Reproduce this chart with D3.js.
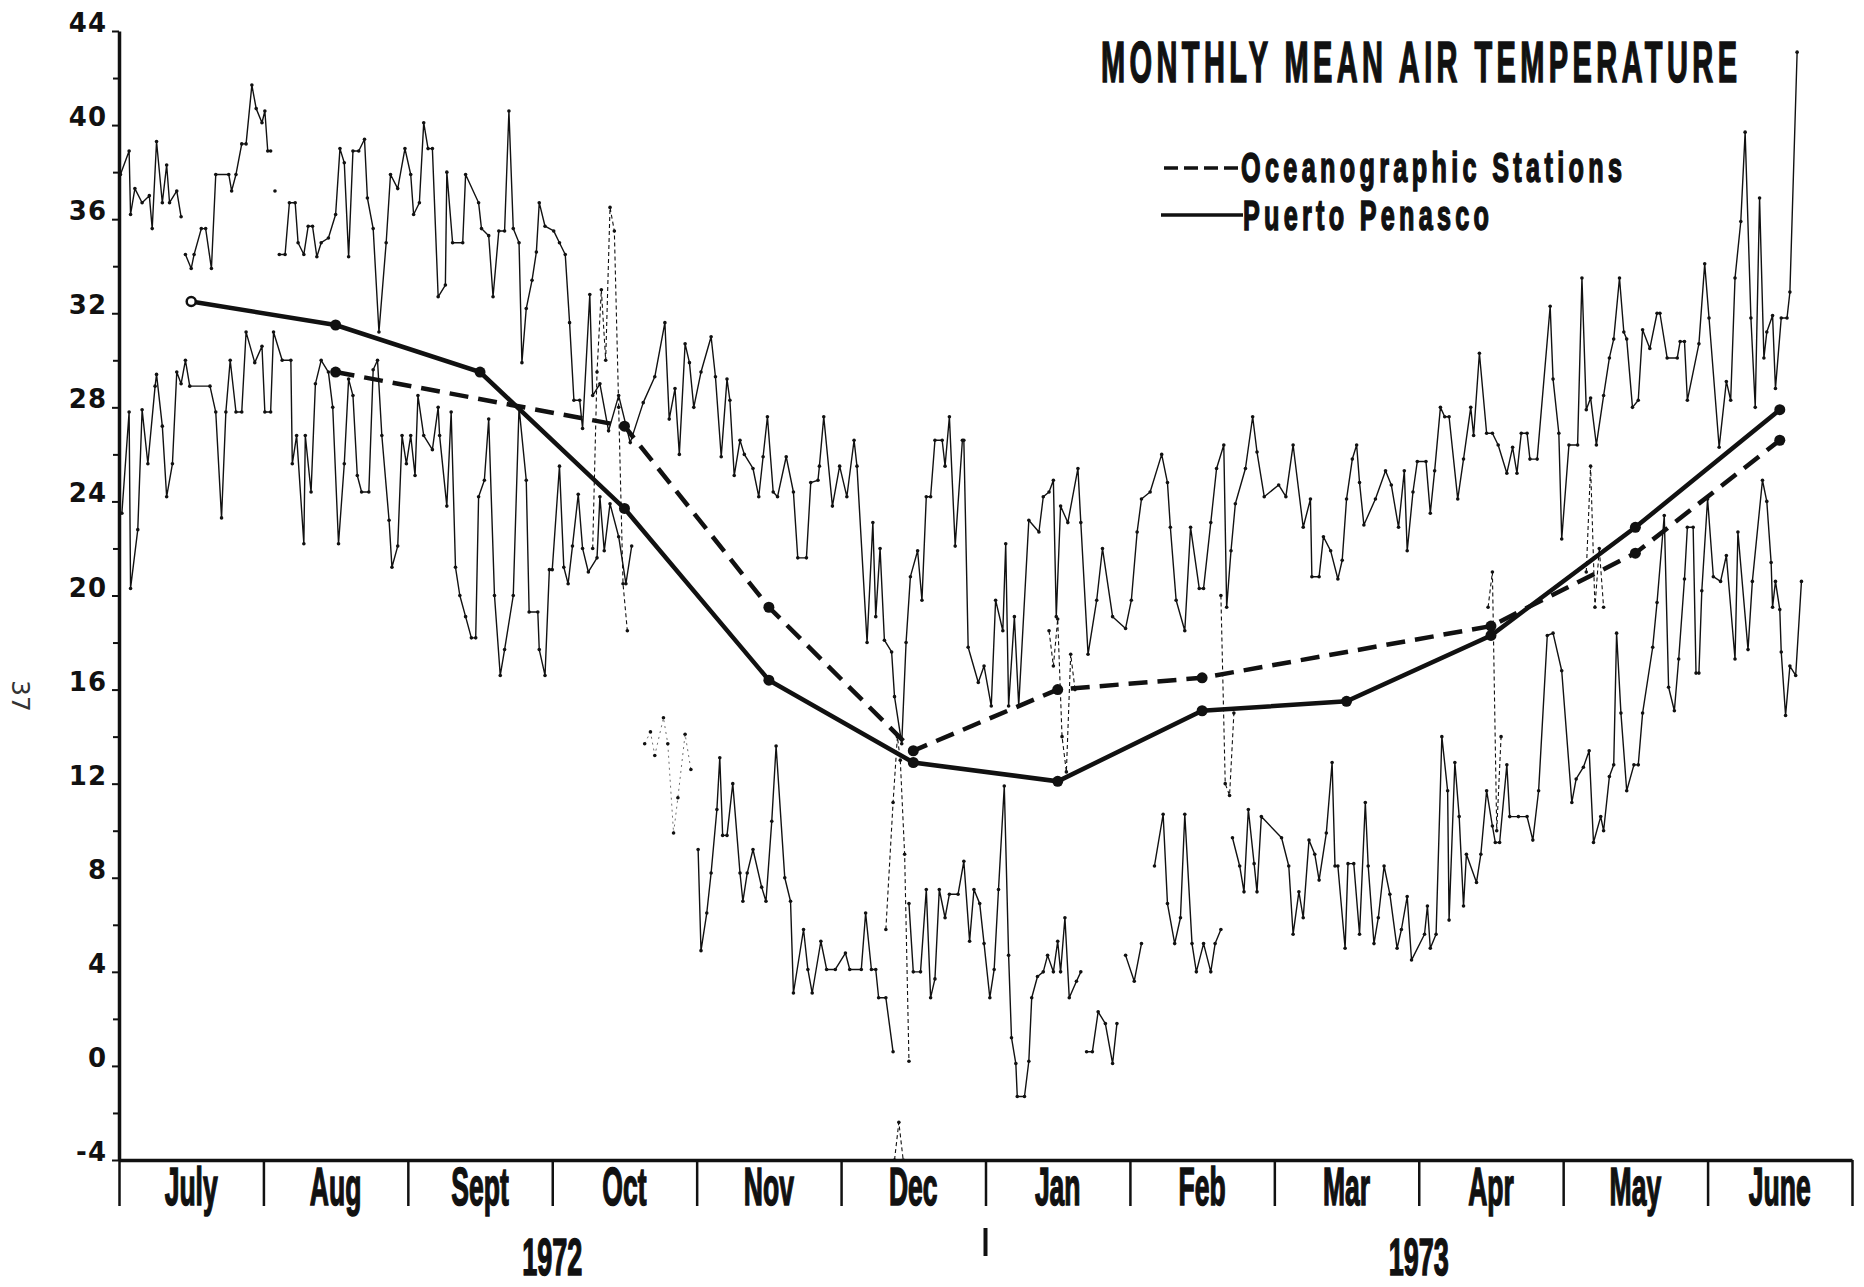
<!DOCTYPE html>
<html>
<head>
<meta charset="UTF-8">
<script src="https://cdnjs.cloudflare.com/ajax/libs/d3/7.8.5/d3.min.js"></script>
<style>
  html, body { margin: 0; padding: 0; background: #fff; }
  svg { display: block; }
  .cond { font-family: "Liberation Sans", Arial, sans-serif; font-weight: bold; fill: #111; stroke: #111; stroke-width: 1.6px; }
  .ytick text { font-family: "DejaVu Sans", sans-serif; font-weight: bold; font-size: 26px; fill: #111; }
</style>
</head>
<body>
<svg id="chart" width="1864" height="1287"></svg>
<script>
// categories
var months = ["July", "Aug", "Sept", "Oct", "Nov", "Dec", "Jan", "Feb", "Mar", "Apr", "May", "June"];
var years = ["1972", "1973"];
var yearCenters = [3, 9];          // in month units from 1 July
var yTicks = [-4, 0, 4, 8, 12, 16, 20, 24, 28, 32, 36, 40, 44];
var yMinorTicks = [-2, 2, 6, 10, 14, 18, 22, 26, 30, 34, 38, 42];

// monthly means (deg C), one per month, null = no value
var penascoMean = [32.5, 31.5, 29.5, 23.7, 16.4, 12.9, 12.1, 15.1, 15.5, 18.3, 22.9, 27.9];
var oceanMean = [null, 29.5, null, 27.2, 19.5, 13.4, 16.0, 16.5, null, 18.7, 21.8, 26.6];

// daily traces: [month position, deg C], null = break in the trace
var dailyMax = [
  [0.01,37.9],[0.07,38.9],[0.08,36.2],[0.11,37.3],[0.16,36.7],[0.21,37.0],[0.23,35.6],[0.26,39.3],[0.30,36.7],[0.33,38.3],[0.35,36.7],[0.40,37.2],[0.43,36.1],null,
  [0.46,34.5],[0.50,33.9],[0.52,34.5],[0.57,35.6],[0.60,35.6],[0.64,33.9],[0.67,37.9],[0.76,37.9],[0.78,37.2],[0.81,37.9],[0.85,39.2],[0.88,39.2],[0.92,41.7],[0.95,40.7],[0.99,40.1],[1.01,40.6],[1.03,38.9],[1.05,38.9],null,
  [1.08,37.2],null,
  [1.11,34.5],[1.15,34.5],[1.18,36.7],[1.22,36.7],[1.24,35.0],[1.28,34.5],[1.31,35.7],[1.34,35.7],[1.37,34.4],[1.40,35.0],[1.45,35.2],[1.50,36.2],[1.53,39.0],[1.56,38.4],[1.59,34.4],[1.62,38.9],[1.66,38.9],[1.70,39.4],[1.72,36.9],[1.76,35.6],[1.80,31.2],[1.85,35.0],[1.88,37.9],[1.93,37.3],[1.98,39.0],[2.02,37.9],[2.04,36.2],[2.08,36.7],[2.11,40.1],[2.14,39.0],[2.17,39.0],[2.21,32.7],[2.26,33.2],[2.27,38.0],[2.31,35.0],[2.38,35.0],[2.40,37.9],[2.49,36.7],[2.51,35.6],[2.56,35.3],[2.59,32.7],[2.63,35.5],[2.67,35.5],[2.70,40.6],[2.73,35.6],[2.77,35.0],[2.79,29.9],[2.82,32.2],[2.86,33.4],[2.89,34.6],[2.91,36.7],[2.95,35.7],[3.01,35.5],[3.05,35.0],[3.09,34.5],[3.12,31.6],[3.15,28.3],[3.19,28.3],[3.21,27.1],[3.26,32.8],[3.28,28.5],[3.33,29.0],[3.39,27.0],[3.46,28.5],[3.54,26.5],[3.63,28.2],[3.71,29.3],[3.78,31.6],[3.81,27.5],[3.85,28.8],[3.88,26.0],[3.92,30.7],[3.95,29.9],[3.98,28.0],[4.03,29.5],[4.10,31.0],[4.13,29.3],[4.17,25.9],[4.21,29.2],[4.23,28.3],[4.26,25.1],[4.30,26.6],[4.33,26.0],[4.39,25.4],[4.43,24.2],[4.46,25.9],[4.49,27.6],[4.53,24.4],[4.56,24.2],[4.62,25.9],[4.67,24.4],[4.70,21.6],[4.76,21.6],[4.79,24.8],[4.84,24.9],[4.85,25.5],[4.88,27.6],[4.94,23.8],[4.99,25.5],[5.04,24.2],[5.09,26.6],[5.11,25.5],[5.18,18.0],[5.22,23.1],[5.24,19.1],[5.27,22.0],[5.30,18.1],[5.35,17.6],[5.37,15.7],[5.42,13.7],[5.45,18.0],[5.48,20.8],[5.53,21.9],[5.56,19.8],[5.59,24.2],[5.62,24.2],[5.65,26.6],[5.70,26.6],[5.72,25.5],[5.75,27.6],[5.79,22.1],[5.84,26.6],[5.85,26.6],[5.88,17.8],[5.95,16.3],[5.99,17.0],[6.04,15.3],[6.07,19.8],[6.12,18.5],[6.14,22.2],[6.16,15.3],[6.20,19.1],[6.23,15.3],[6.30,23.2],[6.37,22.7],[6.40,24.2],[6.44,24.4],[6.47,24.9],[6.49,19.1],[6.52,23.8],[6.57,23.1],[6.64,25.4],[6.66,23.1],[6.71,17.5],[6.77,19.8],[6.81,22.0],[6.88,19.1],[6.97,18.6],[7.01,19.8],[7.05,22.7],[7.08,24.1],[7.14,24.4],[7.22,26.0],[7.26,24.8],[7.28,22.9],[7.32,19.8],[7.38,18.5],[7.42,22.9],[7.48,20.3],[7.51,20.3],[7.56,23.1],[7.60,25.4],[7.65,26.4],[7.67,19.5],[7.70,21.9],[7.73,23.9],[7.80,25.4],[7.85,27.6],[7.88,26.1],[7.93,24.2],[8.03,24.7],[8.08,24.2],[8.13,26.4],[8.20,22.9],[8.25,24.1],[8.26,20.8],[8.31,20.8],[8.34,22.5],[8.39,21.9],[8.44,20.7],[8.47,21.5],[8.50,24.1],[8.54,25.8],[8.57,26.4],[8.59,24.8],[8.62,23.0],[8.70,24.1],[8.77,25.3],[8.81,24.7],[8.86,22.9],[8.90,25.3],[8.92,21.9],[8.96,24.4],[8.99,25.7],[9.05,25.7],[9.08,23.5],[9.11,25.3],[9.15,28.0],[9.18,27.6],[9.21,27.6],[9.27,24.1],[9.31,25.8],[9.36,28.0],[9.38,26.8],[9.42,30.3],[9.47,26.9],[9.51,26.9],[9.55,26.4],[9.61,25.2],[9.65,26.3],[9.68,25.2],[9.71,26.9],[9.75,26.9],[9.77,25.8],[9.82,25.8],[9.91,32.3],[9.93,29.2],[9.97,26.9],[9.99,22.4],[10.04,26.4],[10.10,26.4],[10.13,33.5],[10.16,27.9],[10.19,28.4],[10.23,26.4],[10.28,28.5],[10.32,30.1],[10.35,30.9],[10.39,33.5],[10.42,31.2],[10.44,30.9],[10.48,28.0],[10.52,28.3],[10.55,31.3],[10.60,30.5],[10.65,32.0],[10.67,32.0],[10.72,30.1],[10.79,30.1],[10.81,30.8],[10.84,30.8],[10.86,28.3],[10.94,30.7],[10.98,34.1],[11.01,31.8],[11.08,26.3],[11.13,29.1],[11.16,28.3],[11.19,33.5],[11.23,35.9],[11.26,39.7],[11.30,31.8],[11.33,28.0],[11.36,36.9],[11.39,30.1],[11.41,31.2],[11.45,31.9],[11.47,28.8],[11.51,31.8],[11.55,31.8],[11.57,32.9],[11.62,43.1]
];

var dailyMin = [
  [0.02,23.5],[0.07,27.8],[0.08,20.3],[0.13,22.8],[0.16,27.9],[0.20,25.6],[0.25,28.9],[0.26,29.4],[0.30,27.2],[0.33,24.2],[0.37,25.6],[0.40,29.5],[0.43,29.0],[0.46,30.0],[0.49,28.9],[0.63,28.9],[0.67,27.8],[0.71,23.3],[0.74,27.8],[0.77,30.0],[0.81,27.8],[0.85,27.8],[0.88,31.2],[0.94,29.9],[0.99,30.6],[1.01,27.8],[1.05,27.8],[1.07,31.2],[1.13,30.0],[1.19,30.0],[1.20,25.6],[1.23,26.8],[1.28,22.2],[1.29,26.8],[1.33,24.4],[1.36,29.0],[1.40,30.0],[1.45,29.5],[1.48,28.0],[1.52,22.2],[1.56,25.6],[1.59,29.2],[1.62,28.5],[1.65,25.1],[1.68,24.4],[1.73,24.4],[1.76,29.6],[1.79,30.0],[1.82,26.8],[1.87,23.2],[1.89,21.2],[1.93,22.1],[1.96,26.8],[1.99,25.6],[2.02,26.8],[2.05,25.1],[2.07,28.5],[2.11,26.8],[2.17,26.2],[2.21,28.0],[2.22,26.8],[2.27,23.8],[2.30,27.8],[2.33,21.2],[2.36,20.0],[2.40,19.1],[2.44,18.2],[2.47,18.2],[2.49,24.2],[2.53,24.9],[2.56,27.5],[2.60,20.0],[2.64,16.6],[2.67,17.7],[2.73,20.0],[2.77,28.0],[2.82,24.9],[2.84,19.3],[2.90,19.3],[2.91,17.7],[2.95,16.6],[2.98,21.1],[3.00,21.1],[3.05,25.5],[3.08,21.2],[3.11,20.5],[3.14,22.1],[3.18,24.3],[3.21,22.0],[3.25,21.0],[3.31,21.6],[3.33,24.2],[3.36,21.9],[3.40,23.9],[3.46,22.5],[3.51,20.5],[3.55,22.1],null,
  [4.01,9.2],[4.03,4.9],[4.07,6.5],[4.10,8.2],[4.14,10.9],[4.16,13.1],[4.18,9.8],[4.21,9.8],[4.25,12.0],[4.30,8.2],[4.32,7.0],[4.35,8.2],[4.39,9.2],[4.45,7.6],[4.48,7.0],[4.52,10.4],[4.55,13.6],[4.61,8.0],[4.65,7.0],[4.67,3.1],[4.74,5.8],[4.77,4.1],[4.80,3.1],[4.86,5.3],[4.90,4.1],[4.96,4.1],[5.03,4.8],[5.06,4.1],[5.14,4.1],[5.17,6.5],[5.21,4.1],[5.24,4.1],[5.26,2.9],[5.31,2.9],[5.36,0.6],null,
  [5.47,6.9],[5.50,4.0],[5.55,4.0],[5.59,7.5],[5.62,2.9],[5.65,3.7],[5.68,7.5],[5.72,6.3],[5.75,7.3],[5.81,7.3],[5.85,8.7],[5.89,5.3],[5.92,7.5],[5.96,6.9],[5.99,5.2],[6.03,2.9],[6.06,4.1],[6.09,7.5],[6.13,11.9],[6.16,4.7],[6.18,1.2],[6.21,0.1],[6.22,-1.3],[6.27,-1.3],[6.30,0.2],[6.32,2.9],[6.36,3.8],[6.40,4.0],[6.43,4.7],[6.47,4.0],[6.50,5.3],[6.52,4.0],[6.55,6.3],[6.58,2.9],[6.63,3.6],[6.66,4.0],null,
  [6.70,0.6],[6.74,0.6],[6.78,2.3],[6.83,1.8],[6.88,0.1],[6.91,1.8],null,
  [6.97,4.7],[7.03,3.6],[7.08,5.2],null,
  [7.17,8.5],[7.23,10.7],[7.26,6.9],[7.31,5.2],[7.35,6.3],[7.38,10.7],[7.43,5.2],[7.46,4.0],[7.51,5.2],[7.56,4.0],[7.59,5.2],[7.63,5.8],null,
  [7.71,9.7],[7.76,8.5],[7.79,7.4],[7.82,10.9],[7.86,8.6],[7.88,7.4],[7.91,10.6],[8.05,9.7],[8.10,8.5],[8.13,5.6],[8.17,7.4],[8.20,6.3],[8.24,9.6],[8.28,9.0],[8.31,7.9],[8.36,9.9],[8.40,12.9],[8.42,8.5],[8.44,8.5],[8.49,5.0],[8.51,8.6],[8.55,8.6],[8.59,5.6],[8.63,11.2],[8.65,8.5],[8.69,5.2],[8.72,6.3],[8.76,8.5],[8.80,7.3],[8.85,5.0],[8.88,5.8],[8.92,7.2],[8.95,4.5],[9.04,5.6],[9.06,6.8],[9.08,5.0],[9.12,5.6],[9.16,14.0],[9.20,11.7],[9.21,6.2],[9.25,12.9],[9.28,10.6],[9.31,6.8],[9.33,9.0],[9.40,7.8],[9.43,9.0],[9.47,11.7],[9.51,10.2],[9.53,9.5],[9.56,9.5],[9.61,12.8],[9.63,10.6],[9.69,10.6],[9.75,10.6],[9.79,9.6],[9.83,11.7],[9.89,18.3],[9.93,18.4],[9.99,16.8],[10.06,11.2],[10.09,12.2],[10.14,12.7],[10.18,13.4],[10.21,9.5],[10.26,10.6],[10.28,10.0],[10.32,12.3],[10.35,12.8],[10.37,18.4],[10.40,15.0],[10.44,11.7],[10.49,12.8],[10.52,12.8],[10.55,15.0],[10.62,17.8],[10.65,19.7],[10.70,23.4],[10.73,16.1],[10.77,15.1],[10.80,17.3],[10.84,20.7],[10.86,22.9],[10.90,22.9],[10.92,16.7],[10.94,16.7],[10.96,20.2],[11.00,24.1],[11.04,20.8],[11.09,20.6],[11.13,21.7],[11.19,17.3],[11.21,22.7],[11.28,17.7],[11.31,20.6],[11.38,24.9],[11.41,24.0],[11.44,21.4],[11.45,19.5],[11.47,20.6],[11.50,19.4],[11.51,17.6],[11.54,14.9],[11.57,17.0],[11.61,16.6],[11.65,20.6]
];

// late October minima, only dots survive in the print
var minScattered = [[3.64,13.7],[3.68,14.2],[3.71,13.2],[3.77,14.8],[3.80,13.7],[3.84,9.9],[3.87,11.4],[3.92,14.1],[3.96,12.6]];

// fragments of the oceanographic station daily readings (thin dashed)
var oceanDaily = [
  [3.28,22.0],[3.31,29.5],[3.34,33.0],[3.37,30.0],[3.40,36.5],[3.43,35.5],[3.46,28.0],[3.49,20.5],[3.52,18.5],null,
  [5.31,5.8],[5.36,11.2],[5.39,14.0],[5.41,13.0],[5.44,9.0],[5.47,0.2],null,
  [5.37,-4.0],[5.40,-2.4],[5.43,-4.0],null,
  [6.44,18.5],[6.47,17.0],[6.50,19.0],[6.53,14.0],[6.56,12.5],[6.59,17.5],[6.62,16.0],null,
  [7.63,20.0],[7.66,12.0],[7.69,11.5],[7.72,15.0],null,
  [9.48,19.5],[9.51,21.0],[9.54,10.0],[9.57,14.0],null,
  [10.16,21.0],[10.19,25.5],[10.22,19.5],[10.25,22.0],[10.28,19.5]
];

var svg = d3.select("#chart");
var x = d3.scaleLinear().domain([0, months.length]).range([119, 1852]);
var y = d3.scaleLinear().domain([-4, 44]).range([1160, 31]);
var ink = "#111";

// y axis
var yAxis = svg.append("g").attr("class", "ytick").attr("transform", "translate(" + x(0) + ",0)")
  .call(d3.axisLeft(y).tickValues(yTicks).tickSize(7).tickSizeOuter(0).tickPadding(5)
    .tickFormat(function(d) { return String(d); }));
yAxis.select(".domain").attr("stroke", ink).attr("stroke-width", 3.5);
yAxis.selectAll(".tick line").attr("stroke", ink).attr("stroke-width", 2);
yAxis.selectAll(".tick text").attr("dy", "0.02em").attr("letter-spacing", 1);
svg.append("g").attr("transform", "translate(" + x(0) + ",0)")
  .call(d3.axisLeft(y).tickValues(yMinorTicks).tickSize(6).tickSizeOuter(0).tickFormat(""))
  .call(function(g) { g.select(".domain").remove(); })
  .selectAll("line").attr("stroke", ink).attr("stroke-width", 2);

// x axis with month separators
var xAxis = svg.append("g").attr("transform", "translate(0," + y(-4) + ")")
  .call(d3.axisBottom(x).tickValues(d3.range(0, months.length + 1)).tickSize(46).tickSizeOuter(0).tickFormat(""));
xAxis.select(".domain").attr("stroke", ink).attr("stroke-width", 3.5);
xAxis.selectAll(".tick line").attr("stroke", ink).attr("stroke-width", 2.5);

// narrow bold lettering: squeeze the glyphs horizontally
function condText(px, py, str, size, sx, anchor, width) {
  var t = svg.append("g").attr("transform", "translate(" + px + "," + py + ") scale(" + sx + ",1)")
    .append("text").attr("class", "cond").attr("text-anchor", anchor || "middle")
    .attr("font-size", size).text(str);
  if (width) t.attr("textLength", width / sx).attr("lengthAdjust", "spacing");
}
months.forEach(function(m, i) { condText(x(i + 0.5), 1205, m, 53, 0.5); });
years.forEach(function(yr, i) { condText(x(yearCenters[i]), 1275, yr, 52, 0.52); });
svg.append("line").attr("x1", x(6)).attr("x2", x(6)).attr("y1", 1228).attr("y2", 1256)
  .attr("stroke", ink).attr("stroke-width", 4);

// page number
svg.append("text").attr("transform", "translate(12,680) rotate(90)")
  .attr("font-family", "DejaVu Sans, sans-serif").attr("font-size", 25).attr("fill", "#333").text("37");

// daily traces
var trace = d3.line().defined(function(d) { return d !== null; })
  .x(function(d) { return x(d[0]); }).y(function(d) { return y(d[1]); });

function drawDaily(data, width, dash) {
  svg.append("path").datum(data).attr("d", trace).attr("fill", "none")
    .attr("stroke", ink).attr("stroke-width", width).attr("stroke-dasharray", dash)
    .attr("stroke-linejoin", "round");
  svg.append("g").selectAll("circle").data(data.filter(function(d) { return d !== null; }))
    .enter().append("circle")
    .attr("cx", function(d) { return x(d[0]); }).attr("cy", function(d) { return y(d[1]); })
    .attr("r", 1.8).attr("fill", ink);
}
drawDaily(dailyMax, 1.4, null);
drawDaily(dailyMin, 1.4, null);
drawDaily(minScattered, 0.6, "2,4");
drawDaily(oceanDaily, 1.1, "4,3");

// monthly mean lines
function meanPoints(vals) {
  return vals.map(function(v, i) { return v === null ? null : [i + 0.5, v]; })
    .filter(function(d) { return d !== null; });
}
var meanLine = d3.line().x(function(d) { return x(d[0]); }).y(function(d) { return y(d[1]); });

var oceanPts = meanPoints(oceanMean);
svg.append("path").datum(oceanPts).attr("d", meanLine).attr("fill", "none")
  .attr("stroke", ink).attr("stroke-width", 4.5).attr("stroke-dasharray", "19,10");
svg.append("g").selectAll("circle").data(oceanPts).enter().append("circle")
  .attr("cx", function(d) { return x(d[0]); }).attr("cy", function(d) { return y(d[1]); })
  .attr("r", 5.5).attr("fill", ink);

var penascoPts = meanPoints(penascoMean);
svg.append("path").datum(penascoPts).attr("d", meanLine).attr("fill", "none")
  .attr("stroke", ink).attr("stroke-width", 4.5);
svg.append("g").selectAll("circle").data(penascoPts).enter().append("circle")
  .attr("cx", function(d) { return x(d[0]); }).attr("cy", function(d) { return y(d[1]); })
  .attr("r", function(d, i) { return i === 0 ? 4.5 : 5.5; })
  .attr("fill", function(d, i) { return i === 0 ? "#fff" : ink; })
  .attr("stroke", ink).attr("stroke-width", function(d, i) { return i === 0 ? 2.5 : 0; });

// title and legend
condText(1101, 82, "MONTHLY MEAN AIR TEMPERATURE", 58, 0.5, "start", 636);

svg.append("line").attr("x1", 1164).attr("x2", 1240).attr("y1", 168).attr("y2", 168)
  .attr("stroke", ink).attr("stroke-width", 3.5).attr("stroke-dasharray", "14,6");
condText(1241, 182, "Oceanographic Stations", 42, 0.6, "start", 381);
svg.append("line").attr("x1", 1161).attr("x2", 1243).attr("y1", 215).attr("y2", 215)
  .attr("stroke", ink).attr("stroke-width", 3.5);
condText(1243, 230, "Puerto Penasco", 42, 0.6, "start", 246);
</script>
</body>
</html>
